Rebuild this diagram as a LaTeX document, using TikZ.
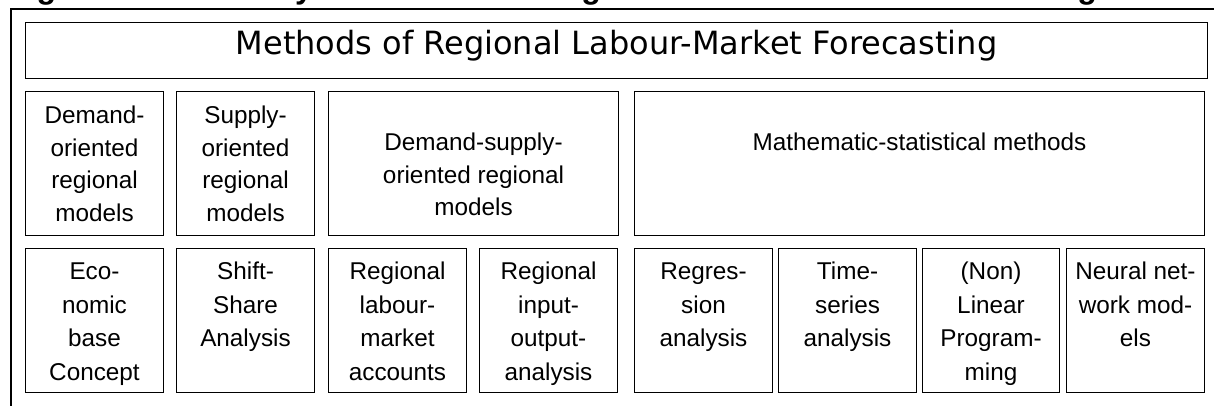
\documentclass[tikz,border=0pt]{standalone}
\usepackage{fontspec}
\setmainfont{Liberation Sans}
\newfontfamily\titlefont{DejaVu Sans}
\newcommand\tstrut{\rule{0pt}{20pt}}
\begin{document}
\begin{tikzpicture}[x=1pt,y=-1pt,
  box/.style n args={2}{draw=black, line width=1.4pt, rectangle, inner sep=0pt, minimum width=#1, minimum height=#2},
  txt/.style={inner sep=0pt, align=center, anchor=north, font=\fontsize{24.3}{32.8}\selectfont},
  txtb/.style={inner sep=0pt, align=center, anchor=north, font=\fontsize{24.3}{33.5}\selectfont},
  frame/.style={line width=2.2pt, line cap=rect}]
\useasboundingbox (0,0) rectangle (1214,406);
% clipped caption
\begin{scope}
\clip (0,0) rectangle (1214,406);
\node[anchor=base west, inner sep=0pt, font=\bfseries\fontsize{32}{38}\selectfont] (cap) at (8,-1) {Figure 1: Taxonomy of Methods of Regional Labour-Market Forecasting};
\end{scope}
% outer frame
\coordinate (fbl) at (11.3,410);
\coordinate (ftl) at (11.3,9);
\coordinate (ftr) at (1218,9);
\draw[frame] (fbl) -- (ftl) -- (ftr);
% title
\node[box={1181.6pt}{55.6pt}] (tbox) at (616.5,50.5) {};
\node[anchor=base, inner sep=0pt, font=\titlefont\fontsize{32}{36}\selectfont] (ttext) at (616.5,54.5) {Methods of Regional Labour-Market Forecasting};
% row 2
\node[box={137.6pt}{143.6pt}] (a1) at (94.5,163.5) {};
\node[box={137.6pt}{143.6pt}] (a2) at (245.5,163.5) {};
\node[box={289.6pt}{143.6pt}] (a3) at (473.5,163.5) {};
\node[box={569.6pt}{143.6pt}] (a4) at (919.5,163.5) {};
\node[txt] (ta1) at (94.5,103) {\tstrut Demand-\\oriented\\regional\\models};
\node[txt] (ta2) at (245.5,103) {\tstrut Supply-\\oriented\\regional\\models};
\node[txt] (ta3) at (473.5,130) {\tstrut Demand-supply-\\oriented regional\\models};
\node[txt] (ta4) at (919.5,130) {\tstrut Mathematic-statistical methods};
% row 3
\node[box={137.6pt}{143.6pt}] (b1) at (94.5,320.5) {};
\node[box={137.6pt}{143.6pt}] (b2) at (245.5,320.5) {};
\node[box={137.6pt}{143.6pt}] (b3) at (397.5,320.5) {};
\node[box={137.6pt}{143.6pt}] (b4) at (548.5,320.5) {};
\node[box={137.6pt}{143.6pt}] (b5) at (703.5,320.5) {};
\node[box={137.6pt}{143.6pt}] (b6) at (847.5,320.5) {};
\node[box={136.6pt}{143.6pt}] (b7) at (991,320.5) {};
\node[box={137.6pt}{143.6pt}] (b8) at (1135.5,320.5) {};
\node[txtb] (tb1) at (94.5,259.5) {\tstrut Eco-\\nomic\\base\\Concept};
\node[txtb] (tb2) at (245.5,259.5) {\tstrut Shift-\\Share\\Analysis};
\node[txtb] (tb3) at (397.5,259.5) {\tstrut Regional\\labour-\\market\\accounts};
\node[txtb] (tb4) at (548.5,259.5) {\tstrut Regional\\input-\\output-\\analysis};
\node[txtb] (tb5) at (703.5,259.5) {\tstrut Regres-\\sion\\analysis};
\node[txtb] (tb6) at (847.5,259.5) {\tstrut Time-\\series\\analysis};
\node[txtb] (tb7) at (991,259.5) {\tstrut (Non)\\Linear\\Program-\\ming};
\node[txtb] (tb8) at (1135.5,259.5) {\tstrut Neural net-\\work mod-\\els};
\end{tikzpicture}
\end{document}
